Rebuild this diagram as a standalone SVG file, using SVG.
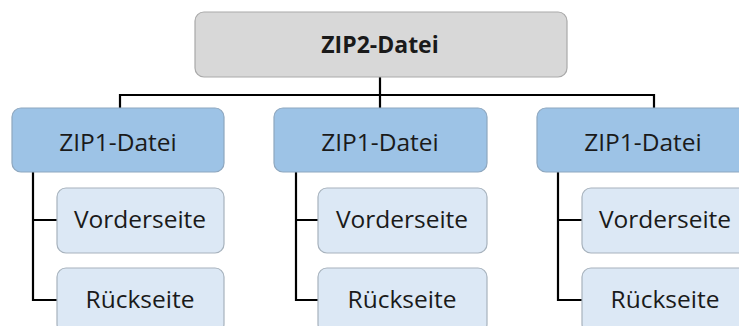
<svg xmlns="http://www.w3.org/2000/svg" width="739" height="326" viewBox="0 0 739 326">
  <style>
    .root { fill: #d8d8d8; stroke: #a9a9a9; stroke-width: 1.2; }
    .zip1 { fill: #9dc3e6; stroke: #8ea7bf; stroke-width: 1.2; }
    .page { fill: #dce8f5; stroke: #a7b2bd; stroke-width: 1.2; }
    .wire { fill: none; stroke: #000; stroke-width: 2.2; }
    text { font-family: "Open Sans", "Noto Sans", sans-serif; font-size: 24.5px; fill: #1a1a1a; text-anchor: middle; }
    .bold { font-weight: bold; font-size: 23px; }
  </style>
  <rect width="739" height="326" fill="#ffffff"/>

  <g id="connectors">
    <path class="wire" d="M380 77 V108 M120 108 V95 H654 V108"/>
    <path class="wire" d="M33 172 V300 H57 M33 220 H57"/>
    <path class="wire" d="M296 172 V300 H318 M296 220 H318"/>
    <path class="wire" d="M558 172 V300 H582 M558 220 H582"/>
  </g>

  <g id="zip2">
    <rect class="root" x="195" y="12" width="372" height="65" rx="9"/>
    <text class="bold" x="380" y="53">ZIP2-Datei</text>
  </g>

  <g id="zip1-a">
    <rect class="zip1" x="12" y="108" width="212" height="64" rx="9"/>
    <text x="118" y="151">ZIP1-Datei</text>
  </g>
  <g id="front-a">
    <rect class="page" x="57" y="188" width="167" height="65" rx="9"/>
    <text x="140" y="228">Vorderseite</text>
  </g>
  <g id="back-a">
    <rect class="page" x="57" y="268" width="167" height="65" rx="9"/>
    <text x="140" y="308">Rückseite</text>
  </g>

  <g id="zip1-b">
    <rect class="zip1" x="274" y="108" width="213" height="64" rx="9"/>
    <text x="380" y="151">ZIP1-Datei</text>
  </g>
  <g id="front-b">
    <rect class="page" x="318" y="188" width="169" height="65" rx="9"/>
    <text x="402" y="228">Vorderseite</text>
  </g>
  <g id="back-b">
    <rect class="page" x="318" y="268" width="169" height="65" rx="9"/>
    <text x="402" y="308">Rückseite</text>
  </g>

  <g id="zip1-c">
    <rect class="zip1" x="537" y="108" width="212" height="64" rx="9"/>
    <text x="643" y="151">ZIP1-Datei</text>
  </g>
  <g id="front-c">
    <rect class="page" x="582" y="188" width="167" height="65" rx="9"/>
    <text x="665" y="228">Vorderseite</text>
  </g>
  <g id="back-c">
    <rect class="page" x="582" y="268" width="167" height="65" rx="9"/>
    <text x="665" y="308">Rückseite</text>
  </g>
</svg>
